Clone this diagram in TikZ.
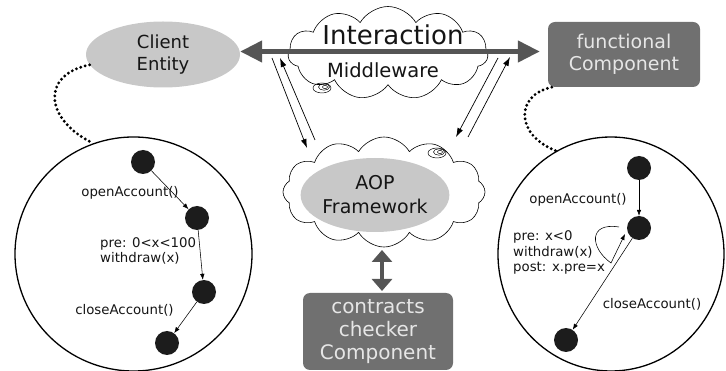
\documentclass[tikz,border=0pt]{standalone}
\usepackage{fontspec}
\setmainfont{DejaVu Sans}
\usetikzlibrary{shapes.symbols,shapes.geometric,arrows.meta,calc}
\definecolor{lightfill}{HTML}{C8C8C8}
\definecolor{boxfill}{HTML}{707070}
\definecolor{boxtext}{HTML}{E6E6E6}
\definecolor{thickcol}{HTML}{555555}
\definecolor{statefill}{HTML}{1C1C1C}
\definecolor{inkcol}{HTML}{151515}
\begin{document}
\begin{tikzpicture}[x=1pt,y=-1pt,
  every node/.style={text=inkcol},
  ellnode/.style={ellipse, fill=lightfill, inner sep=0pt, align=center, font=\fontsize{18}{22}\selectfont},
  compbox/.style={rounded corners=7pt, fill=boxfill, inner sep=0pt, align=center, text=boxtext},
  cloudnode/.style={cloud, cloud puff arc=120, cloud ignores aspect, draw=black, line width=0.6pt, fill=white, inner sep=0pt},
  statenode/.style={circle, fill=statefill, minimum size=24pt, inner sep=0pt},
  lbl/.style={font=\fontsize{13.3}{15.5}\selectfont, align=left, inner sep=0pt},
  bigcirc/.style={ellipse, draw=black, line width=1.3pt, inner sep=0pt},
  thinarrow/.style={-{Latex[length=6pt,width=4.5pt]}, line width=0.55pt},
  diagarrow/.style={-{Latex[length=9pt,width=6pt]}, line width=0.7pt},
  thickarr/.style={{Triangle[length=22pt,width=21pt]}-{Triangle[length=22pt,width=21pt]}, line width=4.5pt, draw=thickcol, fill=thickcol},
  vertarr/.style={{Triangle[length=12pt,width=20pt]}-{Triangle[length=12pt,width=20pt]}, line width=4.5pt, draw=thickcol, fill=thickcol},
  dotline/.style={line width=3.2pt, dash pattern=on 0pt off 4.6pt, line cap=round},
  spiral/.style={line width=0.5pt}
]
\useasboundingbox (0,0) rectangle (726,371);

% big circles
\node[bigcirc, minimum width=237pt, minimum height=234pt] (lcirc) at (133.5,254) {};
\node[bigcirc, minimum width=226pt, minimum height=234pt] (rcirc) at (611,254) {};

% clouds
\node[cloudnode, cloud puffs=11, minimum width=200pt, minimum height=93pt] (topcloud) at (388,53) {};
\node[cloudnode, cloud puffs=12, minimum width=202pt, minimum height=110pt] (aopcloud) at (384,192) {};

% spirals
\draw[spiral] (322,88) ellipse (9pt and 5pt);
\draw[spiral] (324,87) ellipse (5.5pt and 3.2pt);
\draw[spiral] (325,87) ellipse (2.5pt and 1.6pt);
\draw[spiral] (437,153) ellipse (9pt and 5pt);
\draw[spiral] (439,152) ellipse (5.5pt and 3.2pt);
\draw[spiral] (440,152) ellipse (2.5pt and 1.6pt);

% main nodes
\node[ellnode, minimum width=154pt, minimum height=66pt] (client) at (163,54.5) {Client\\Entity};
\node[compbox, minimum width=152pt, minimum height=65pt, font=\fontsize{19}{22}\selectfont] (func) at (624,54.5) {functional\\Component};
\node[ellnode, minimum width=146pt, minimum height=74pt, font=\fontsize{19}{24}\selectfont] (aop) at (375,195) {AOP\\Framework};
\node[compbox, minimum width=150pt, minimum height=77pt, font=\fontsize{20}{23}\selectfont] (contracts) at (378,331.5) {contracts\\checker\\Component};

% cloud texts
\node[font=\fontsize{26}{28}\selectfont, inner sep=0pt] (interaction) at (393,35) {Interaction};
\node[font=\fontsize{19.5}{22}\selectfont, inner sep=0pt] (middleware) at (383,70) {Middleware};

% thick arrows
\coordinate (harrL) at ([yshift=3pt]client.east);
\coordinate (harrR) at ([xshift=-8pt,yshift=3pt]func.west);
\draw[thickarr] (harrL) -- (harrR);
\coordinate (varrT) at (382,250);
\coordinate (varrB) at (382,291);
\draw[vertarr] (varrT) -- (varrB);

% diagonal arrows
\coordinate (la1) at (272,58);
\coordinate (la2) at (307,148);
\coordinate (lb1) at (315,140);
\coordinate (lb2) at (280,58);
\draw[diagarrow] (la1) -- (la2);
\draw[diagarrow] (lb1) -- (lb2);
\coordinate (ra1) at (498,58);
\coordinate (ra2) at (456,137);
\coordinate (rb1) at (468,137);
\coordinate (rb2) at (510,57);
\draw[diagarrow] (ra1) -- (ra2);
\draw[diagarrow] (rb1) -- (rb2);

% dotted connectors
\draw[dotline] (client.188) .. controls (40,75) and (45,120) .. (lcirc.110);
\coordinate (fstart) at ([xshift=4pt]func.south west);
\draw[dotline] (fstart) .. controls (515,95) and (515,135) .. (rcirc.118);

% left state machine
\node[statenode] (s1) at (143,162) {};
\node[statenode] (s2) at (197,218) {};
\node[statenode] (s3) at (204,292) {};
\node[statenode] (s4) at (167,343) {};
\draw[thinarrow] (s1) -- (s2);
\draw[thinarrow] (s2) -- (s3);
\draw[thinarrow] (s3) -- (s4);
\node[lbl] (l1) at (130,193) {openAccount()};
\node[lbl, anchor=west] (l2) at (100,251) {pre: 0<x<100\\withdraw(x)};
\node[lbl] (l3) at (124.5,310) {closeAccount()};

% right state machine
\node[statenode] (r1) at (639,168) {};
\node[statenode] (r2) at (639,228) {};
\node[statenode] (r3) at (566,340) {};
\draw[thinarrow] (r1) -- (r2);
\draw[thinarrow] (r2) -- (r3);
\coordinate (loopstart) at (619,227);
\coordinate (loopend) at (625,234);
\draw[thinarrow] (loopstart) .. controls (588,222) and (590,248) .. (611,263) -- (loopend);
\node[lbl] (m1) at (578,200) {openAccount()};
\node[lbl, anchor=west] (m2) at (513,252.5) {pre: x<0\\withdraw(x)\\post: x.pre=x};
\node[lbl] (m3) at (652,304) {closeAccount()};
\end{tikzpicture}
\end{document}
